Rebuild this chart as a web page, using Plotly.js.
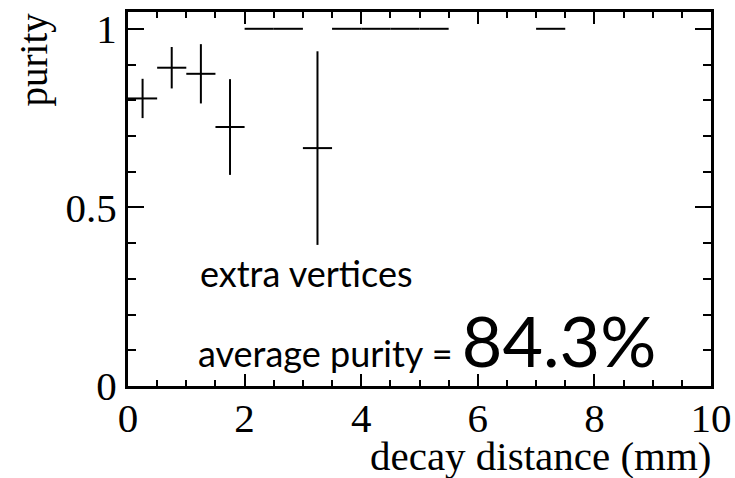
<!DOCTYPE html>
<html>
<head>
<meta charset="utf-8">
<script src="https://cdn.plot.ly/plotly-3.0.1.min.js"></script>
<style>
html,body{margin:0;padding:0;background:#fff;}
#chart{width:735px;height:478px;}
</style>
</head>
<body>
<div id="chart"></div>
<script>
// decay-distance bins (mm), bin width 0.5
const binCenters = [0.25, 0.75, 1.25, 1.75, 2.25, 2.75, 3.25, 3.75, 4.25, 4.75, 5.25, 7.25];
const binHalfWidth = [0.25, 0.25, 0.25, 0.25, 0.25, 0.25, 0.25, 0.25, 0.25, 0.25, 0.25, 0.25];
const purity = [0.805, 0.891, 0.874, 0.725, 1.0, 1.0, 0.666, 1.0, 1.0, 1.0, 1.0, 1.0];
const purityErr = [0.055, 0.058, 0.083, 0.134, 0, 0, 0.271, 0, 0, 0, 0, 0];
const xTickVals = [0, 2, 4, 6, 8, 10];
const yTickVals = [0, 0.5, 1];
const yTickText = ['0', '0.5', '1'];
const xTitle = 'decay distance (mm)';
const yTitle = 'purity';
const label1 = 'extra vertices';
const label2 = 'average purity = ';
const averagePurity = '84.3%';

const serif = 'Liberation Serif';
const sans = 'Lato';

const trace = {
  type: 'scatter',
  mode: 'markers',
  x: binCenters,
  y: purity,
  marker: {size: 1, color: 'rgba(0,0,0,0)', line: {width: 0}},
  error_x: {type: 'data', array: binHalfWidth, symmetric: true, width: 0, thickness: 2, color: 'black'},
  error_y: {type: 'data', array: purityErr, symmetric: true, width: 0, thickness: 2, color: 'black'},
  hoverinfo: 'skip',
  showlegend: false
};

const axisCommon = {
  showgrid: false,
  zeroline: false,
  showline: true,
  linewidth: 3,
  linecolor: 'black',
  mirror: 'ticks',
  ticks: 'inside',
  tickwidth: 2,
  tickcolor: 'black',
  tickfont: {family: serif, size: 41, color: 'black'}
};

const layout = {
  width: 735,
  height: 478,
  margin: {l: 128, r: 24, t: 12, b: 92},
  paper_bgcolor: 'white',
  plot_bgcolor: 'white',
  showlegend: false,
  font: {family: serif, color: 'black'},
  xaxis: Object.assign({}, axisCommon, {
    range: [0, 10],
    tickmode: 'array',
    tickvals: xTickVals,
    ticktext: xTickVals.map(String),
    ticklen: 12,
    minor: {dtick: 0.5, tick0: 0, ticks: 'inside', ticklen: 6, tickwidth: 2, tickcolor: 'black', showgrid: false}
  }),
  yaxis: Object.assign({}, axisCommon, {
    range: [0, 1.047],
    tickmode: 'array',
    tickvals: yTickVals,
    ticktext: yTickText,
    ticklen: 16,
    minor: {dtick: 0.1, tick0: 0, ticks: 'inside', ticklen: 8, tickwidth: 2, tickcolor: 'black', showgrid: false}
  }),
  annotations: [
    {text: xTitle, xref: 'paper', yref: 'paper', x: 1, y: -0.186, xanchor: 'right', yanchor: 'middle', xshift: 3,
     showarrow: false, font: {family: serif, size: 41, color: 'black'}},
    {text: yTitle, xref: 'paper', yref: 'paper', x: -0.162, y: 1.003, xanchor: 'center', yanchor: 'top', textangle: -90,
     showarrow: false, font: {family: serif, size: 39, color: 'black'}},
    {text: label1, xref: 'x', yref: 'y', x: 1.2, y: 0.316, xanchor: 'left', yanchor: 'middle',
     showarrow: false, font: {family: sans, size: 36, color: 'black'}},
    {text: label2 + '<span style="font-size:70px">' + averagePurity + '</span>', xref: 'x', yref: 'y', x: 1.16, y: 0.13,
     xanchor: 'left', yanchor: 'middle', showarrow: false, font: {family: sans, size: 36, color: 'black'}}
  ]
};

Plotly.newPlot('chart', [trace], layout, {staticPlot: true, displayModeBar: false}).then(function () {
  // nudge x tick labels up slightly, ROOT-style tight placement
  document.querySelectorAll('.xtick text').forEach(function (t) {
    t.setAttribute('dy', '-6');
  });
});
</script>
</body>
</html>
